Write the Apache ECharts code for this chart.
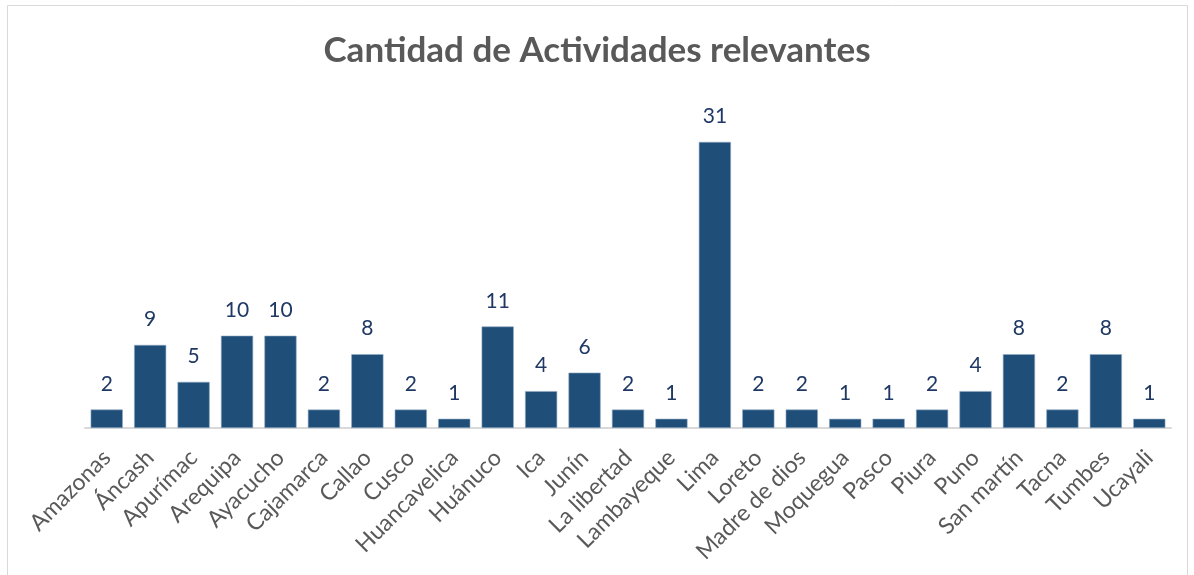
<!DOCTYPE html>
<html>
<head>
<meta charset="utf-8">
<script src="https://cdn.jsdelivr.net/npm/echarts@6/dist/echarts.min.js"></script>
<style>
  html, body { margin: 0; padding: 0; background: #fff; }
  #main { width: 1194px; height: 575px; }
</style>
</head>
<body>
<div id="main"></div>
<script>
// datos
const regiones = ['Amazonas', 'Áncash', 'Apurímac', 'Arequipa', 'Ayacucho', 'Cajamarca', 'Callao', 'Cusco',
  'Huancavelica', 'Huánuco', 'Ica', 'Junín', 'La libertad', 'Lambayeque', 'Lima', 'Loreto', 'Madre de dios',
  'Moquegua', 'Pasco', 'Piura', 'Puno', 'San martín', 'Tacna', 'Tumbes', 'Ucayali'];
const actividades = [2, 9, 5, 10, 10, 2, 8, 2, 1, 11, 4, 6, 2, 1, 31, 2, 2, 1, 1, 2, 4, 8, 2, 8, 1];

const chart = echarts.init(document.getElementById('main'));

const option = {
  backgroundColor: '#fff',
  animation: false,
  textStyle: { fontFamily: 'Lato' },
  title: {
    text: 'Cantidad de Actividades relevantes',
    left: 'center',
    top: 28,
    textStyle: { fontFamily: 'Lato', fontSize: 35, fontWeight: 'bold', color: '#595959' }
  },
  graphic: [{
    type: 'rect',
    shape: { x: 7.5, y: 5.5, width: 1180, height: 600 },
    style: { fill: 'none', stroke: '#D9D9D9', lineWidth: 1 }
  }],
  grid: { left: 85, right: 23, top: 105, bottom: 147 },
  xAxis: {
    type: 'category',
    data: regiones,
    axisTick: { show: false },
    axisLine: { lineStyle: { color: '#D9D9D9', width: 2 } },
    axisLabel: { rotate: 45, interval: 0, fontSize: 23, color: '#595959', margin: 26 }
  },
  yAxis: {
    type: 'value',
    min: 0,
    max: 35,
    show: false,
    splitLine: { show: false }
  },
  series: [{
    type: 'bar',
    data: actividades,
    barWidth: '74%',
    itemStyle: { color: '#1F4E79', borderColor: '#8FA9C4', borderWidth: 0.6 },
    label: { show: true, position: 'top', distance: 15, fontSize: 21, color: '#1F3864' }
  }]
};

chart.setOption(option);
</script>
</body>
</html>
